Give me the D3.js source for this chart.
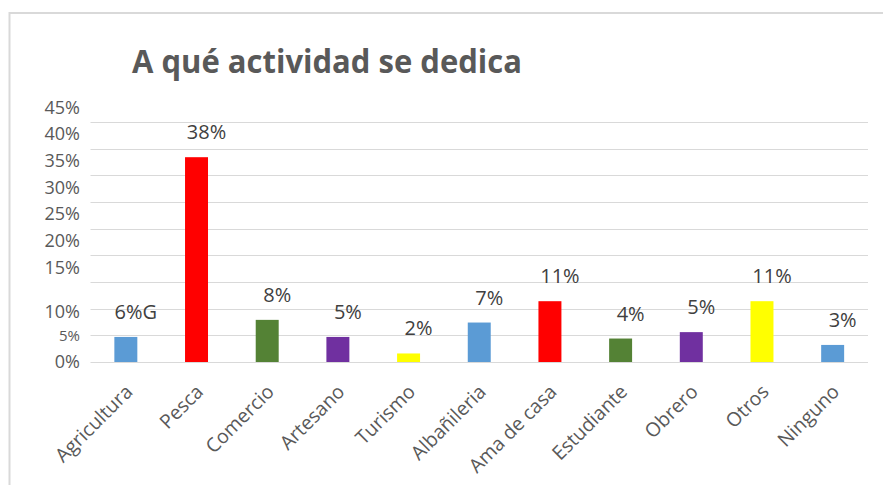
<!DOCTYPE html>
<html>
<head>
<meta charset="utf-8">
<script src="https://cdn.jsdelivr.net/npm/d3@7"></script>
<style>
  body { margin: 0; background: #fff; }
  text { font-family: "Open Sans", sans-serif; }
</style>
</head>
<body>
<div id="chart"></div>
<script>
// Data
const categories = ["Agricultura", "Pesca", "Comercio", "Artesano", "Turismo", "Albañileria",
  "Ama de casa", "Estudiante", "Obrero", "Otros", "Ninguno"];
const values = [0.047, 0.384, 0.079, 0.047, 0.016, 0.074, 0.114, 0.044, 0.056, 0.114, 0.032];
const labels = ["6%G", "38%", "8%", "5%", "2%", "7%", "11%", "4%", "5%", "11%", "3%"];
const barColors = ["#5b9bd5", "#ff0000", "#548235", "#7030a0", "#ffff00", "#5b9bd5",
  "#ff0000", "#548235", "#7030a0", "#ffff00", "#5b9bd5"];
const yTicks = [0, 0.05, 0.1, 0.15, 0.2, 0.25, 0.3, 0.35, 0.4, 0.45];
const title = "A qué actividad se dedica";

const W = 883, H = 485;
const data = categories.map((c, i) => ({ cat: c, value: values[i], label: labels[i], color: barColors[i] }));

const svg = d3.select("#chart").append("svg")
  .attr("width", W)
  .attr("height", H);

// Chart frame (only top and left edges are visible)
svg.append("path")
  .attr("d", `M9.5,${H} V13 H${W}`)
  .attr("fill", "none")
  .attr("stroke", "#d9d9d9")
  .attr("stroke-width", 2);

// Scales
const x = d3.scaleBand().domain(categories).range([90.5, 868]).paddingInner(0.675).paddingOuter(0.3375);
const y = d3.scaleLinear().domain([0, 0.45]).range([362, 122]);

// Gridlines
svg.append("g")
  .selectAll("line")
  .data(yTicks)
  .join("line")
  .attr("x1", 90.5)
  .attr("x2", 868)
  .attr("y1", (d) => Math.round(y(d)) + 0.5)
  .attr("y2", (d) => Math.round(y(d)) + 0.5)
  .attr("stroke", "#d9d9d9")
  .attr("stroke-width", 1);

// Y axis labels (upper labels sit above their gridlines in the original)
const yAxis = svg.append("g")
  .attr("transform", "translate(80,0)")
  .call(d3.axisLeft(y).tickValues(yTicks).tickFormat(d3.format(".0%")).tickSize(0).tickPadding(0));
yAxis.select(".domain").remove();
yAxis.selectAll("text")
  .attr("fill", "#595959")
  .style("font-size", (d) => (d === 0.05 ? "15px" : "18px"))
  .attr("dy", (d) => (d >= 0.15 ? "-0.5em" : d === 0.1 ? "0.5em" : "0.32em"));

// Bars
svg.append("g")
  .selectAll("rect")
  .data(data)
  .join("rect")
  .attr("x", (d) => x(d.cat))
  .attr("y", (d) => y(d.value))
  .attr("width", x.bandwidth())
  .attr("height", (d) => y(0) - y(d.value))
  .attr("fill", (d) => d.color);

// Data labels
svg.append("g")
  .selectAll("text")
  .data(data)
  .join("text")
  .attr("x", (d) => x(d.cat) + x.bandwidth() / 2 + 10)
  .attr("y", (d) => y(d.value) - 18)
  .attr("text-anchor", "middle")
  .attr("fill", "#404040")
  .style("font-size", "20px")
  .text((d) => d.label);

// Category labels
svg.append("g")
  .selectAll("text")
  .data(data)
  .join("text")
  .attr("transform", (d) => `translate(${x(d.cat) + x.bandwidth() / 2 + 8},393) rotate(-45)`)
  .attr("text-anchor", "end")
  .attr("fill", "#595959")
  .style("font-size", "19.5px")
  .text((d) => d.cat);

// Title
svg.append("text")
  .attr("x", 132)
  .attr("y", 73)
  .attr("fill", "#595959")
  .style("font-size", "32px")
  .style("font-weight", "bold")
  .attr("textLength", 390)
  .attr("lengthAdjust", "spacingAndGlyphs")
  .text(title);
</script>
</body>
</html>
